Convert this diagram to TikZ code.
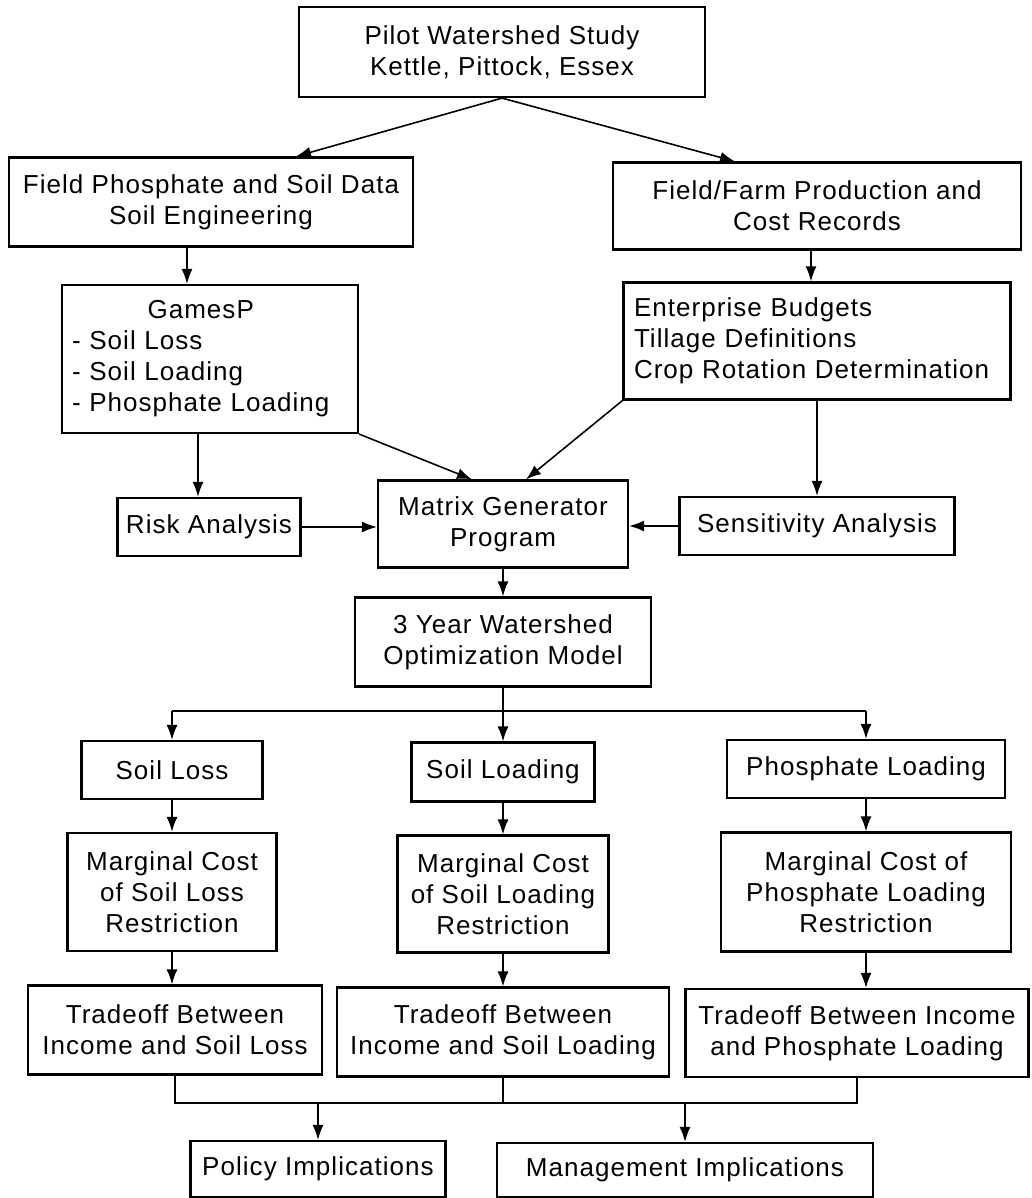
\documentclass[tikz,border=0pt]{standalone}
\usepackage{fontspec}
\setmainfont{Liberation Sans}[LetterSpace=4]
\usetikzlibrary{calc,arrows.meta}

\begin{document}
\begin{tikzpicture}[x=0.5pt,y=-0.5pt,
    box/.style={draw,line width=1.1pt,align=center,inner sep=0pt,font=\fontsize{13}{15.5}\selectfont},
    sz/.style 2 args={minimum width=#1*0.5pt,minimum height=#2*0.5pt},
    arr/.style={line width=0.8pt,-{Latex[length=7.5pt,width=5.5pt]}},
    lnk/.style={line width=0.8pt}]
    \useasboundingbox (0,0) rectangle (1032,1198);

    % study and data sources
    \node[box,sz={406}{90}] (pilot) at (502,52) {Pilot Watershed Study\\Kettle, Pittock, Essex};
    \node[box,sz={404}{89}] (field) at (211,202) {Field Phosphate and Soil Data\\Soil Engineering};
    \node[box,sz={408}{87}] (farm) at (817,206) {Field/Farm Production and\\Cost Records};
    \node[box,sz={296}{148},text width=138pt,align=left] (games) at (210,359)
        {\begin{tabular}{@{}l@{}}\multicolumn{1}{@{}c@{}}{GamesP}\\- Soil Loss\\- Soil Loading\\- Phosphate Loading\end{tabular}};
    \node[box,sz={387}{117},text width=183pt,align=left] (budget) at (817,341)
        {Enterprise Budgets\\Tillage Definitions\\Crop Rotation Determination};

    % generator
    \node[box,sz={183}{58}] (risk) at (209,527) {Risk Analysis};
    \node[box,sz={250}{87}] (matrix) at (503,524) {Matrix Generator\\Program};
    \node[box,sz={275}{58}] (sens) at (817,526) {Sensitivity Analysis};
    \node[box,sz={296}{89}] (model) at (503,642) {3 Year Watershed\\Optimization Model};

    % three restrictions
    \node[box,sz={181}{58}] (loss) at (172,770) {Soil Loss};
    \node[box,sz={183}{59}] (load) at (503,772) {Soil Loading};
    \node[box,sz={278}{58}] (phos) at (866,769) {Phosphate Loading};
    \node[box,sz={209}{118}] (mcloss) at (172,892) {Marginal Cost\\of Soil Loss\\Restriction};
    \node[box,sz={211}{117}] (mcload) at (503,894) {Marginal Cost\\of Soil Loading\\Restriction};
    \node[box,sz={290}{119}] (mcphos) at (866,892) {Marginal Cost of\\Phosphate Loading\\Restriction};
    \node[box,sz={294}{89}] (tdloss) at (175,1030) {Tradeoff Between\\Income and Soil Loss};
    \node[box,sz={332}{89}] (tdload) at (503,1032) {Tradeoff Between\\Income and Soil Loading};
    \node[box,sz={343}{88}] (tdphos) at (857,1033) {Tradeoff Between Income\\and Phosphate Loading};

    % implications
    \node[box,sz={255}{56}] (policy) at (318,1169) {Policy Implications};
    \node[box,sz={376}{54}] (manage) at (685,1170) {Management Implications};

    \coordinate (split) at (498,711);
    \coordinate (merge) at (501,1103);

    \draw[arr] (pilot.south) -- ([xshift=42.5pt]field.north);
    \draw[arr] (pilot.south) -- ([xshift=-41pt]farm.north);
    \draw[arr] ([xshift=-12pt]field.south) -- ([xshift=-12pt]field.south |- games.north);
    \draw[arr] ([xshift=-3pt]farm.south) -- ([xshift=-3pt]farm.south |- budget.north);
    \draw[arr] ([xshift=-6pt]games.south) -- ([xshift=-6pt]games.south |- risk.north);
    \draw[arr] (budget.south) -- (budget.south |- sens.north);
    \draw[arr] (games.south east) -- ([xshift=-15.5pt]matrix.north);
    \draw[arr] (budget.south west) -- ([xshift=11.5pt]matrix.north);
    \draw[arr] (risk.east) -- (risk.east -| matrix.west);
    \draw[arr] (sens.west) -- (sens.west -| matrix.east);
    \draw[arr] (matrix.south) -- (model.north);

    % branch to the three restrictions
    \draw[arr] (model.south) -- (load.north);
    \draw[lnk] (split -| loss.north) -- (split -| phos.north);
    \draw[arr] (split -| loss.north) -- (loss.north);
    \draw[arr] (split -| phos.north) -- (phos.north);
    \draw[arr] (loss.south) -- (mcloss.north);
    \draw[arr] (load.south) -- (mcload.north);
    \draw[arr] (phos.south) -- (mcphos.north);
    \draw[arr] (mcloss.south) -- (mcloss.south |- tdloss.north);
    \draw[arr] (mcload.south) -- (tdload.north);
    \draw[arr] (mcphos.south) -- (mcphos.south |- tdphos.north);

    % merge to implications
    \draw[lnk] (tdloss.south) -- (tdloss.south |- merge) -- (tdphos.south |- merge) -- (tdphos.south);
    \draw[lnk] (tdload.south) -- (tdload.south |- merge);
    \draw[arr] (merge -| policy.north) -- (policy.north);
    \draw[arr] (merge -| manage.north) -- (manage.north);
\end{tikzpicture}
\end{document}
